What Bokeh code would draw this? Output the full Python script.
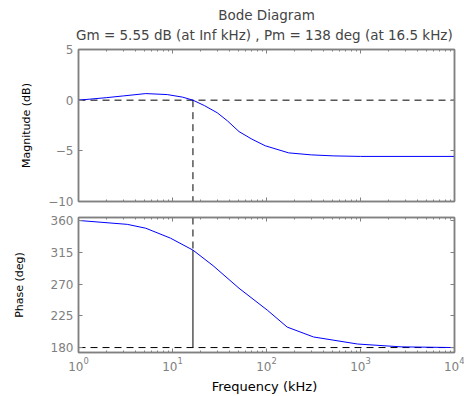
from bokeh.plotting import figure
from bokeh.models import LogAxis, LinearAxis, Title, FixedTicker, LogTicker
from bokeh.layouts import column
from bokeh.embed import file_html
from bokeh.resources import INLINE

# ---- data ----
mag_freq = [1, 2, 3, 5.2, 8.8, 12.8, 16.5, 22, 30, 38.5, 51, 70, 97, 172, 300, 520, 1000, 10000]
mag_db = [0, 0.25, 0.42, 0.65, 0.55, 0.3, 0, -0.55, -1.25, -2.05, -3.1, -3.85, -4.5, -5.2, -5.4, -5.5, -5.55, -5.55]

ph_freq = [1, 3.3, 5.2, 9.5, 16.5, 27, 51, 102, 166, 316, 930, 2700, 10000]
ph_deg = [360, 354.5, 349, 335, 318, 296, 264, 233, 209, 195, 185, 181, 180]

wc = 16.5          # gain crossover frequency (kHz)
pm_phase = 318     # phase at crossover (deg)
mag_ticks = [-10, -5, 0, 5]
ph_ticks = [180, 225, 270, 315, 360]

title_main = "Bode Diagram"
title_sub = "Gm = 5.55 dB (at Inf kHz) ,  Pm = 138 deg (at 16.5 kHz)"

GRAY = "#808080"
FONT = "DejaVu Sans"
BLUE = "#0000ff"


def style_axis(ax, labels=True):
    ax.axis_line_color = GRAY
    ax.axis_line_width = 1.5
    ax.major_tick_line_color = GRAY
    ax.minor_tick_line_color = GRAY
    ax.major_tick_in = 4
    ax.major_tick_out = 0
    ax.minor_tick_in = 2
    ax.minor_tick_out = 0
    ax.major_label_text_color = GRAY
    ax.major_label_text_font = FONT
    ax.major_label_text_font_size = "12px" if labels else "1px"
    if not labels:
        ax.major_label_text_alpha = 0
    ax.major_label_standoff = 5 if labels else 0
    ax.axis_label_text_font = FONT
    ax.axis_label_text_font_style = "normal"
    ax.axis_label_text_color = "black"


# ---- magnitude figure ----
p1 = figure(width=464, height=209, x_axis_type="log", x_range=(1, 1e4), y_range=(-10, 5),
            output_backend="svg", toolbar_location=None,
            min_border_left=78, min_border_right=10, min_border_top=49, min_border_bottom=8)
p1.grid.visible = False
p1.outline_line_color = GRAY
p1.outline_line_width = 1.5
p1.yaxis.ticker = FixedTicker(ticks=mag_ticks)
p1.yaxis.axis_label = "Magnitude (dB)"
for ax in p1.yaxis:
    style_axis(ax)
p1.yaxis.axis_label_text_font_size = "11px"
p1.yaxis.axis_label_standoff = 12
for ax in p1.xaxis:
    style_axis(ax, labels=False)
p1.xaxis.ticker = LogTicker(num_minor_ticks=10)
ra = LinearAxis(ticker=FixedTicker(ticks=mag_ticks))
style_axis(ra, labels=False)
p1.add_layout(ra, "right")
ta = LogAxis(ticker=LogTicker(num_minor_ticks=10))
style_axis(ta, labels=False)
p1.add_layout(ta, "above")
p1.add_layout(Title(text=title_sub, align="center", text_font=FONT, text_font_size="13.5px",
                    text_font_style="normal", standoff=14), "above")
p1.add_layout(Title(text=title_main, align="center", text_font=FONT, text_font_size="13.5px",
                    text_font_style="normal", standoff=-11), "above")

p1.line([1, 1e4], [0, 0], line_color="black", line_dash="7 5", line_width=1)
p1.line([wc, wc], [0, -10], line_color="black", line_dash="7 5", line_width=1)
p1.line(mag_freq, mag_db, line_color=BLUE, line_width=1)

# ---- phase figure ----
p2 = figure(width=464, height=187, x_axis_type="log", x_range=p1.x_range, y_range=(173, 364.2),
            output_backend="svg", toolbar_location=None,
            min_border_left=78, min_border_right=10, min_border_top=8, min_border_bottom=43)
p2.grid.visible = False
p2.outline_line_color = GRAY
p2.outline_line_width = 1.5
p2.yaxis.ticker = FixedTicker(ticks=ph_ticks)
p2.yaxis.axis_label = "Phase (deg)"
for ax in p2.yaxis:
    style_axis(ax)
p2.yaxis.axis_label_text_font_size = "11px"
p2.yaxis.axis_label_standoff = 22
for ax in p2.xaxis:
    style_axis(ax)
p2.xaxis.ticker = LogTicker(num_minor_ticks=10)
p2.xaxis.major_label_standoff = 4
p2.xaxis.axis_label = "Frequency  (kHz)"
p2.xaxis.axis_label_text_font_size = "13px"
p2.xaxis.axis_label_standoff = 5
ra2 = LinearAxis(ticker=FixedTicker(ticks=ph_ticks))
style_axis(ra2, labels=False)
p2.add_layout(ra2, "right")
ta2 = LogAxis(ticker=LogTicker(num_minor_ticks=10))
style_axis(ta2, labels=False)
p2.add_layout(ta2, "above")

p2.line([1, 1e4], [180, 180], line_color="black", line_dash="7 5", line_width=1)
p2.line([wc, wc], [364.2, pm_phase], line_color="black", line_dash="7 5", line_width=1)
p2.line([wc, wc], [pm_phase, 180], line_color="black", line_width=1)
p2.line(ph_freq, ph_deg, line_color=BLUE, line_width=1)

layout = column(p1, p2, spacing=0)
open("out.html", "w").write(file_html(layout, INLINE))
